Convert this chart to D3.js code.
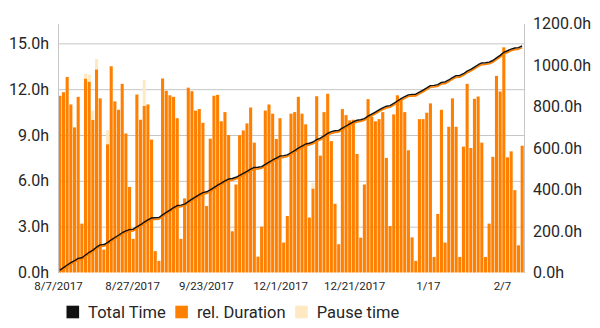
<!DOCTYPE html>
<html>
<head>
<meta charset="utf-8">
<script src="https://cdn.jsdelivr.net/npm/d3@7"></script>
<style>
  body { margin: 0; background: #fff; }
  text { font-family: Roboto, "Noto Sans", sans-serif; }
</style>
</head>
<body>
<div id="chart"></div>
<script>
// Hours worked per entry (rel. Duration)
const relDuration = [
    11.57, 11.8, 12.8, 11.0, 9.5, 11.5, 3.2, 12.7, 12.5, 10.0, 13.3, 11.4, 1.5, 8.4, 13.5, 11.2,
    10.65, 12.35, 9.1, 5.6, 2.2, 11.65, 10.0, 10.9, 11.0, 8.7, 1.4, 0.76, 12.7, 11.9, 11.6, 11.5, 10.1,
    2.2, 4.85, 12.1, 11.87, 10.6, 10.7, 9.8, 4.35, 8.76, 11.57, 11.63, 9.9, 10.5, 9.0, 2.7, 5.76,
    8.98, 9.3, 9.76, 10.8, 8.5, 1.04, 3.0, 10.6, 11.0, 10.4, 8.74, 10.1, 1.96, 3.7, 10.4, 10.5,
    11.5, 10.4, 9.7, 3.6, 5.5, 11.54, 7.65, 10.5, 11.7, 8.6, 4.5, 1.85, 10.7, 10.3, 9.96, 10.0,
    7.76, 2.28, 5.76, 11.35, 10.2, 9.9, 10.04, 10.5, 7.5, 3.04, 10.35, 11.6, 11.3, 10.5, 8.0, 2.3,
    0.76, 10.04, 10.04, 10.46, 11.07, 1.02, 3.83, 10.65, 1.96, 9.54, 11.4, 9.54, 1.02, 8.24, 12.35,
    8.15, 11.37, 11.52, 8.5, 1.02, 3.2, 7.57, 12.87, 11.85, 14.74, 7.54, 7.93, 5.39, 1.78, 8.3
];
// Pause time (only the entries that have one): entry index and hours
const pauseIndex = [7, 8, 9, 10, 13, 23, 69];
const pauseHours = [0.3, 0.45, 0.6, 0.67, 0.9, 1.7, 0.37];

// x axis labels and the entry positions they sit at
const dateLabels = ["8/7/2017", "8/27/2017", "9/23/2017", "12/1/2017", "12/21/2017", "1/17", "2/7"];
const datePositions = [-0.5, 19.7, 39.8, 60, 80.2, 100.3, 120.5];

const leftTicks = [0, 3, 6, 9, 12, 15];
const rightTicks = [0, 200, 400, 600, 800, 1000, 1200];
const legendNames = ["Total Time", "rel. Duration", "Pause time"];

const colors = { total: "#111111", duration: "#ff8000", pause: "#ffe9c2", grid: "#c6c6c6", text: "#262626" };
const legendColors = [colors.total, colors.duration, colors.pause];

// SVG setup
let svgWidth = 600;
let svgHeight = 328;
let plot = { left: 58, right: 524, top: 23.5, bottom: 272.5 };

let svg = d3.select("#chart")
    .append("svg")
    .attr("width", svgWidth)
    .attr("height", svgHeight);

// pause lookup
let pause = relDuration.map(() => 0);
pauseIndex.forEach((p, i) => { pause[p] = pauseHours[i]; });

// Total time = running sum
let totals = Array.from(d3.cumsum(relDuration.map((d, i) => d + pause[i])));

// Scales
let xScale = d3.scaleLinear()
    .domain([-0.5, relDuration.length - 0.5])
    .range([plot.left, plot.right]);
let yLeft = d3.scaleLinear()
    .domain([0, 16.3])
    .range([plot.bottom, plot.top]);
let yRight = d3.scaleLinear()
    .domain([0, 1200])
    .range([plot.bottom, plot.top]);

let step = xScale(1) - xScale(0);
let barW = step * 0.84;

// Grid lines
svg.append("g")
    .attr("transform", `translate(${plot.left},0)`)
    .call(d3.axisLeft(yLeft).tickValues(leftTicks.filter(t => t > 0)).tickSize(-(plot.right - plot.left)).tickFormat(""))
    .call(g => g.select(".domain").remove())
    .call(g => g.selectAll("line").attr("stroke", colors.grid).attr("stroke-width", 1));

// Bars
let bars = svg.append("g");
bars.selectAll("rect.dur")
    .data(relDuration)
    .enter()
    .append("rect")
    .attr("class", "dur")
    .attr("x", (d, i) => xScale(i) - barW / 2)
    .attr("y", d => yLeft(d))
    .attr("width", barW)
    .attr("height", d => yLeft(0) - yLeft(d))
    .attr("fill", colors.duration);
bars.selectAll("rect.pause")
    .data(pauseIndex)
    .enter()
    .append("rect")
    .attr("class", "pause")
    .attr("x", p => xScale(p) - barW / 2)
    .attr("y", (p, i) => yLeft(relDuration[p] + pauseHours[i]))
    .attr("width", barW)
    .attr("height", (p, i) => yLeft(relDuration[p]) - yLeft(relDuration[p] + pauseHours[i]))
    .attr("fill", colors.pause);

// Total time line (orange shadow, black line)
let line = d3.line()
    .x((d, i) => xScale(i))
    .y(d => yRight(d));
svg.append("path")
    .datum(totals)
    .attr("d", line)
    .attr("transform", "translate(0,1.6)")
    .attr("fill", "none")
    .attr("stroke", colors.duration)
    .attr("stroke-width", 1.8);
svg.append("path")
    .datum(totals)
    .attr("d", line)
    .attr("fill", "none")
    .attr("stroke", colors.total)
    .attr("stroke-width", 1.4)
    .attr("stroke-linejoin", "round");

// Left axis
let leftAxis = d3.axisLeft(yLeft)
    .tickValues(leftTicks)
    .tickFormat(d => d.toFixed(1) + "h")
    .tickSize(0)
    .tickSizeOuter(0)
    .tickPadding(9);
svg.append("g")
    .attr("transform", `translate(${plot.left},0)`)
    .call(leftAxis)
    .call(g => g.select(".domain").attr("stroke", colors.grid))
    .call(g => g.selectAll("text").attr("fill", colors.text).style("font-size", "16px").attr("font-family", "Roboto"));

// Right axis
let rightAxis = d3.axisRight(yRight)
    .tickValues(rightTicks)
    .tickFormat(d => d.toFixed(1) + "h")
    .tickSize(0)
    .tickSizeOuter(0)
    .tickPadding(9);
svg.append("g")
    .attr("transform", `translate(${plot.right},0)`)
    .call(rightAxis)
    .call(g => g.select(".domain").attr("stroke", colors.grid))
    .call(g => g.selectAll("text").attr("fill", colors.text).style("font-size", "16px").attr("font-family", "Roboto"));

// X axis labels
let bottomAxis = d3.axisBottom(xScale)
    .tickValues(datePositions)
    .tickFormat((d, i) => dateLabels[i])
    .tickSize(0)
    .tickPadding(9);
svg.append("g")
    .attr("transform", `translate(0,${plot.bottom})`)
    .call(bottomAxis)
    .call(g => g.select(".domain").remove())
    .call(g => g.selectAll("text").attr("fill", colors.text).style("font-size", "11.5px").attr("font-family", "Roboto"));

// Legend
let legend = svg.append("g").attr("transform", "translate(66.5,305.7)");
let lx = 0;
legendNames.forEach((name, i) => {
    legend.append("rect")
        .attr("x", lx)
        .attr("y", 0)
        .attr("width", 12.6)
        .attr("height", 12.6)
        .attr("fill", legendColors[i]);
    let t = legend.append("text")
        .attr("x", lx + 12.6 + 9)
        .attr("y", 12.6)
        .attr("fill", colors.text)
        .style("font-size", "16.5px")
        .text(name);
    lx += 12.6 + 9 + t.node().getComputedTextLength() + 9.5;
});
</script>
</body>
</html>
